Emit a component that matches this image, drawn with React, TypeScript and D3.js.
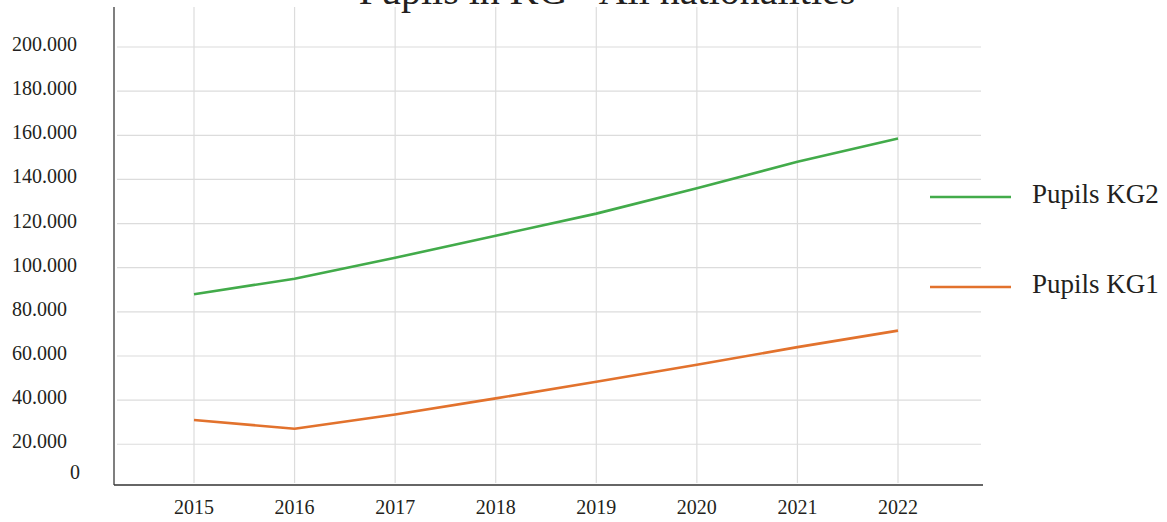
import * as d3 from 'd3';
import { useEffect, useRef } from 'react';

const title = 'Pupils in KG - All nationalities';
const years = ['2015', '2016', '2017', '2018', '2019', '2020', '2021', '2022'];
const pupilsKG2 = [88000, 95000, 104500, 114500, 124500, 136000, 148000, 158500];
const pupilsKG1 = [31000, 27000, 33500, 40800, 48300, 56000, 64000, 71500];
const seriesNames = ['Pupils KG2', 'Pupils KG1'];
const seriesColors = ['#42ab4a', '#e2722d'];
const yTicks = [0, 20000, 40000, 60000, 80000, 100000, 120000, 140000, 160000, 180000, 200000];

const W = 1167;
const H = 522;
const FONT = "'Liberation Serif', 'Times New Roman', serif";
const INK = '#231f20';

// dotted thousands like the original ("200.000")
const fmt = d3
  .formatLocale({ decimal: ',', thousands: '.', grouping: [3], currency: ['', ''] })
  .format(',');

const PupilsChart = () => {
  const svgRef = useRef<SVGSVGElement>(null);

  useEffect(() => {
    const svg = d3.select(svgRef.current);
    svg.selectAll('*').remove();

    const axisLeft = 114;
    const axisBottom = 485;
    const plotTop = 7;
    const plotRight = 983;

    const x = d3.scalePoint().domain(years).range([194, 898]);
    const y = d3.scaleLinear().domain([0, 200000]).range([488.4, 47]);

    // grid
    svg
      .selectAll('.vgrid')
      .data(years)
      .join('line')
      .attr('class', 'vgrid')
      .attr('x1', (d) => x(d)!)
      .attr('x2', (d) => x(d)!)
      .attr('y1', plotTop)
      .attr('y2', axisBottom - 2)
      .attr('stroke', '#dcdcdc')
      .attr('stroke-width', 1.2);

    svg
      .selectAll('.hgrid')
      .data(yTicks.filter((t) => t > 0))
      .join('line')
      .attr('class', 'hgrid')
      .attr('x1', axisLeft + 3)
      .attr('x2', plotRight - 2)
      .attr('y1', (d) => y(d))
      .attr('y2', (d) => y(d))
      .attr('stroke', '#dcdcdc')
      .attr('stroke-width', 1.2);

    // axes
    svg
      .append('line')
      .attr('x1', axisLeft)
      .attr('x2', axisLeft)
      .attr('y1', plotTop)
      .attr('y2', axisBottom)
      .attr('stroke', '#555')
      .attr('stroke-width', 1.5);
    svg
      .append('line')
      .attr('x1', axisLeft)
      .attr('x2', plotRight)
      .attr('y1', axisBottom)
      .attr('y2', axisBottom)
      .attr('stroke', '#333')
      .attr('stroke-width', 1.5);

    // y labels
    svg
      .selectAll('.ylab')
      .data(yTicks)
      .join('text')
      .attr('class', 'ylab')
      .attr('x', (d) => (d === 0 ? 80 : 12))
      .attr('y', (d) => Math.min(y(d) + 4, axisBottom - 6))
      .attr('text-anchor', (d) => (d === 0 ? 'end' : 'start'))
      .style('font-family', FONT)
      .style('font-size', '20px')
      .style('fill', INK)
      .text((d) => fmt(d));

    // x labels
    svg
      .selectAll('.xlab')
      .data(years)
      .join('text')
      .attr('class', 'xlab')
      .attr('x', (d) => x(d)!)
      .attr('y', axisBottom + 29)
      .attr('text-anchor', 'middle')
      .style('font-family', FONT)
      .style('font-size', '20px')
      .style('fill', INK)
      .text((d) => d);

    // lines
    const series = [pupilsKG2, pupilsKG1];
    const line = d3
      .line<number>()
      .x((_, i) => x(years[i])!)
      .y((d) => y(d));

    svg
      .selectAll('.series')
      .data(series)
      .join('path')
      .attr('class', 'series')
      .attr('d', (d) => line(d))
      .attr('fill', 'none')
      .attr('stroke', (_, i) => seriesColors[i])
      .attr('stroke-width', 2.6)
      .attr('stroke-linejoin', 'round');

    // legend
    const legendTop = 197;
    const legendGap = 90;
    const legend = svg
      .selectAll('.legend')
      .data(seriesNames)
      .join('g')
      .attr('class', 'legend')
      .attr('transform', (_, i) => `translate(930, ${legendTop + i * legendGap})`);
    legend
      .append('line')
      .attr('x1', 0)
      .attr('x2', 81)
      .attr('stroke', (_, i) => seriesColors[i])
      .attr('stroke-width', 2.6);
    legend
      .append('text')
      .attr('x', 102)
      .attr('y', 6)
      .style('font-family', FONT)
      .style('font-size', '27px')
      .style('fill', INK)
      .text((d) => d);

    // title (cut off at the top in the original)
    svg
      .append('text')
      .attr('x', 607)
      .attr('y', 4)
      .attr('text-anchor', 'middle')
      .style('font-family', FONT)
      .style('font-size', '40px')
      .style('fill', INK)
      .text(title);
  }, []);

  return <svg ref={svgRef} width={W} height={H} style={{ display: 'block' }} />;
};

export default function App() {
  return (
    <div style={{ position: 'absolute', left: 0, top: 0, width: W, height: H, background: '#fff' }}>
      <PupilsChart />
    </div>
  );
}
